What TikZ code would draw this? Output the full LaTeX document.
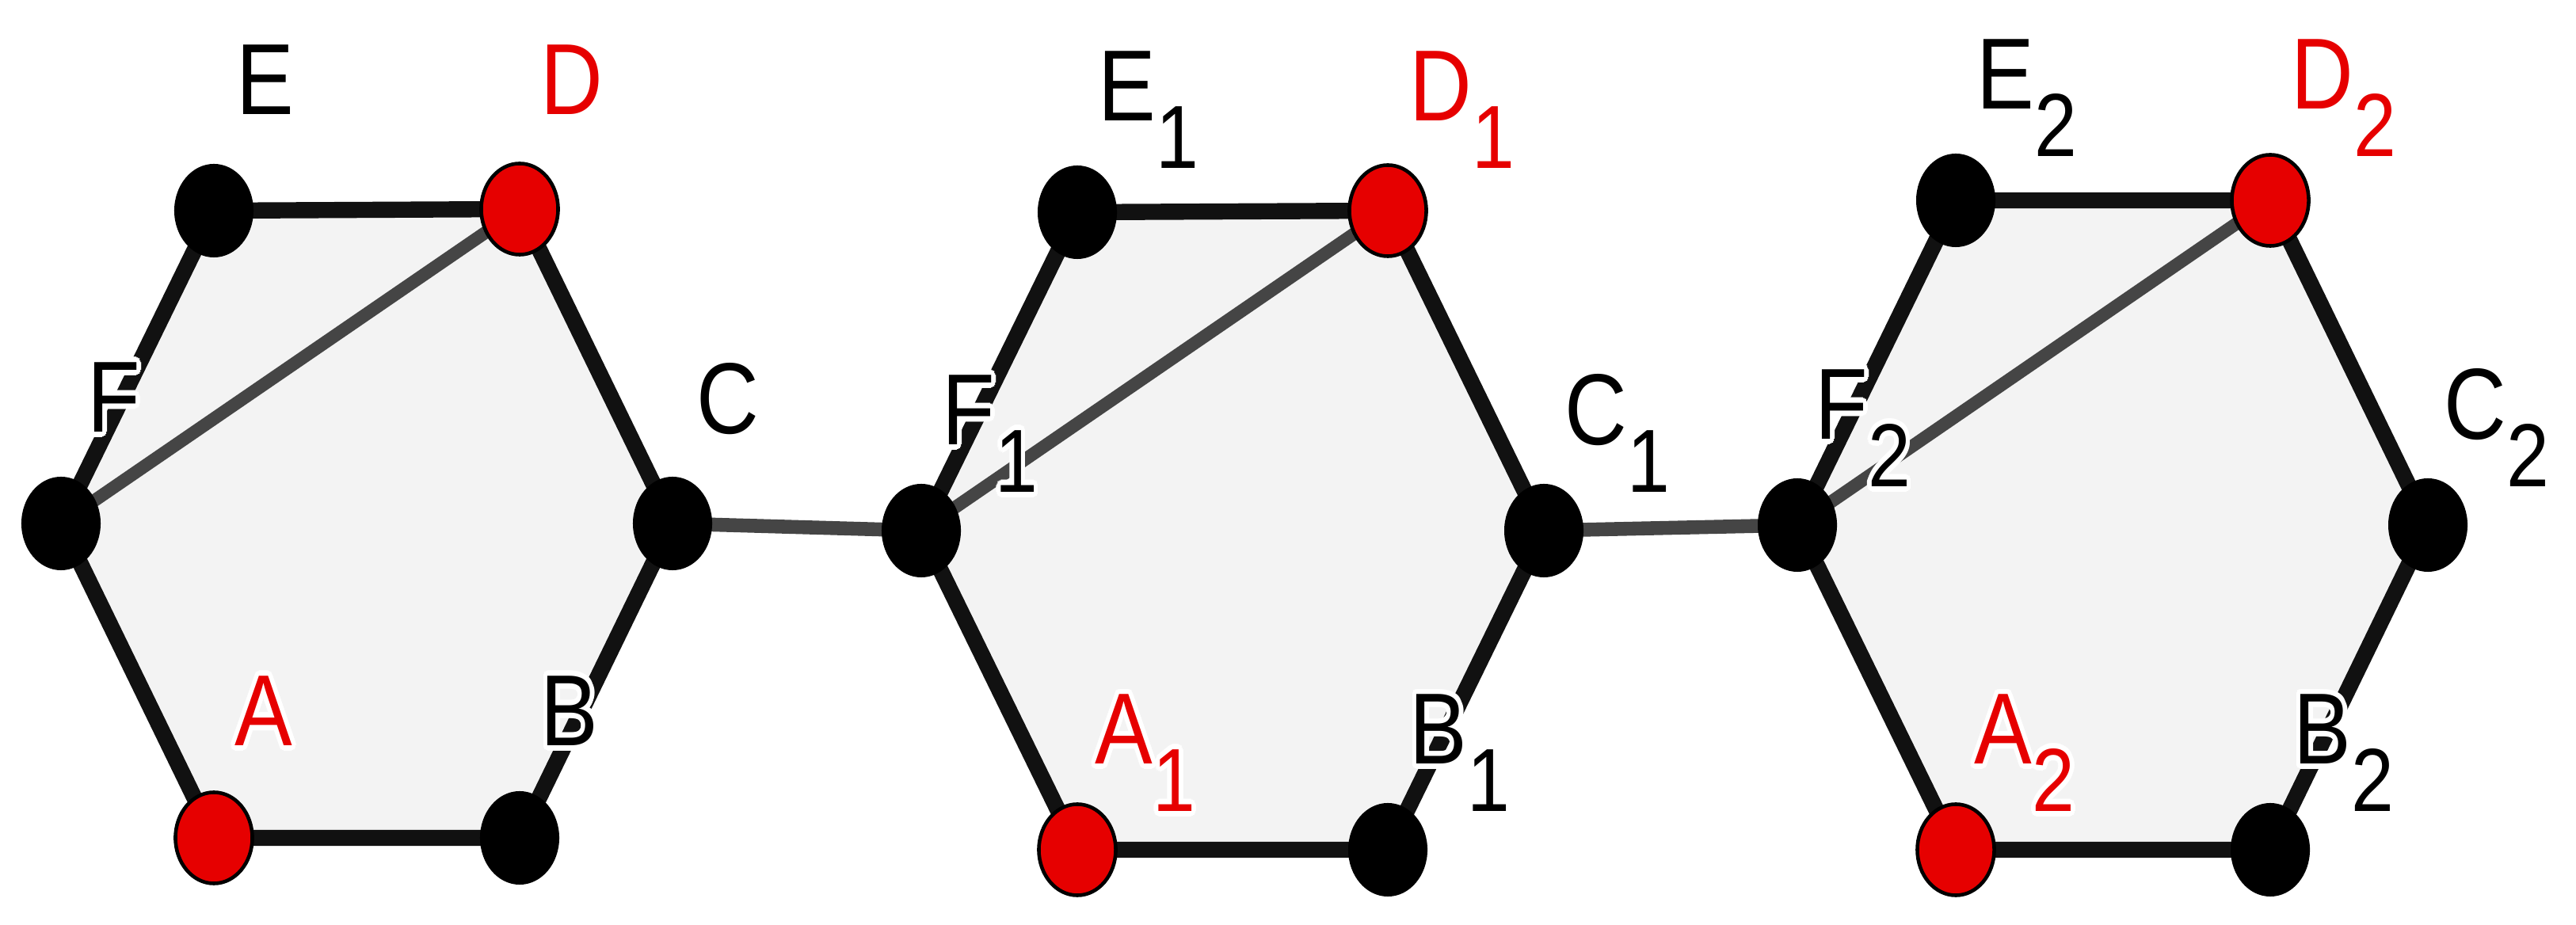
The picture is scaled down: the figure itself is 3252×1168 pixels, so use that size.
\documentclass[tikz,border=0pt]{standalone}
\usepackage{fontspec}
\setmainfont{Liberation Sans}
\usepackage{graphicx}
\usepackage{contour}
\contourlength{1.6pt}
\usetikzlibrary{shapes.geometric}
\definecolor{dotred}{HTML}{E60000}
\definecolor{edgeblack}{HTML}{111111}
\definecolor{linegray}{HTML}{454545}
\definecolor{hexfill}{HTML}{F3F3F3}
\newcommand{\lsub}[1]{\smash{\raisebox{-0.47em}{\fontsize{27.5pt}{27.5pt}\selectfont #1}}}
\newcommand{\lbltext}[2]{\scalebox{1}[1.17]{\contour{white}{#1\rlap{\lsub{#2}}}}}
\tikzset{
  hexedge/.style={draw=edgeblack, line width=5.8pt, fill=hexfill, line join=round},
  diag/.style={draw=linegray, line width=4.6pt},
  link/.style={draw=linegray, line width=5pt},
  bdot/.style={ellipse, fill=black, minimum width=1.0cm, minimum height=1.18cm, inner sep=0pt},
  rdot/.style={ellipse, fill=dotred, draw=black, line width=1.3pt, minimum width=0.97cm, minimum height=1.15cm, inner sep=0pt},
  lbl/.style={inner sep=0pt, text=black, font=\fontsize{31pt}{31pt}\selectfont},
  rlbl/.style={lbl, text=dotred}
}
\begin{document}
\begin{tikzpicture}[x=0.01cm, y=-0.01cm]
\useasboundingbox (0,0) rectangle (3252,1168);
% vertex positions
\coordinate (pE) at (270,266);  \coordinate (pD) at (656,264);
\coordinate (pC) at (849,661);  \coordinate (pB) at (656,1058);
\coordinate (pA) at (270,1058); \coordinate (pF) at (77,661);
\coordinate (pE1) at (1360,268);  \coordinate (pD1) at (1752,266);
\coordinate (pC1) at (1949,670);  \coordinate (pB1) at (1752,1073);
\coordinate (pA1) at (1360,1073); \coordinate (pF1) at (1163,670);
\coordinate (pE2) at (2469,253);  \coordinate (pD2) at (2866,253);
\coordinate (pC2) at (3065,663);  \coordinate (pB2) at (2866,1073);
\coordinate (pA2) at (2469,1073); \coordinate (pF2) at (2269,663);
% hexagons
\path[hexedge] (pA) -- (pB) -- (pC) -- (pD) -- (pE) -- (pF) -- cycle;
\path[hexedge] (pA1) -- (pB1) -- (pC1) -- (pD1) -- (pE1) -- (pF1) -- cycle;
\path[hexedge] (pA2) -- (pB2) -- (pC2) -- (pD2) -- (pE2) -- (pF2) -- cycle;
% diagonals
\draw[diag] (pF) -- (pD);
\draw[diag] (pF1) -- (pD1);
\draw[diag] (pF2) -- (pD2);
% links between hexagons
\draw[link] (pC) -- (pF1);
\draw[link] (pC1) -- (pF2);
% dots
\node[rdot] (A) at (pA) {}; \node[bdot] (B) at (pB) {}; \node[bdot] (C) at (pC) {};
\node[rdot] (D) at (pD) {}; \node[bdot] (E) at (pE) {}; \node[bdot] (F) at (pF) {};
\node[rdot] (A1) at (pA1) {}; \node[bdot] (B1) at (pB1) {}; \node[bdot] (C1) at (pC1) {};
\node[rdot] (D1) at (pD1) {}; \node[bdot] (E1) at (pE1) {}; \node[bdot] (F1) at (pF1) {};
\node[rdot] (A2) at (pA2) {}; \node[bdot] (B2) at (pB2) {}; \node[bdot] (C2) at (pC2) {};
\node[rdot] (D2) at (pD2) {}; \node[bdot] (E2) at (pE2) {}; \node[bdot] (F2) at (pF2) {};
% labels
\node[lbl]  (lE) at (335,104) {\lbltext{E}{}};
\node[rlbl] (lD) at (722,104) {\lbltext{D}{}};
\node[lbl]  (lC) at (919,507) {\lbltext{C}{}};
\node[lbl]  (lF) at (144,505) {\lbltext{F}{}};
\node[rlbl] (lA) at (333,901) {\lbltext{A}{}};
\node[lbl]  (lB) at (719,901) {\lbltext{B}{}};
\node[lbl]  (lE1) at (1423,112) {\lbltext{E}{1}};
\node[rlbl] (lD1) at (1819,112) {\lbltext{D}{1}};
\node[lbl]  (lC1) at (2015,521) {\lbltext{C}{1}};
\node[lbl]  (lF1) at (1223,521) {\lbltext{F}{1}};
\node[rlbl] (lA1) at (1419,924) {\lbltext{A}{1}};
\node[lbl]  (lB1) at (1816,924) {\lbltext{B}{1}};
\node[lbl]  (lE2) at (2532,97) {\lbltext{E}{2}};
\node[rlbl] (lD2) at (2932,97) {\lbltext{D}{2}};
\node[lbl]  (lC2) at (3125,514) {\lbltext{C}{2}};
\node[lbl]  (lF2) at (2325,514) {\lbltext{F}{2}};
\node[rlbl] (lA2) at (2529,924) {\lbltext{A}{2}};
\node[lbl]  (lB2) at (2932,924) {\lbltext{B}{2}};
\end{tikzpicture}
\end{document}
